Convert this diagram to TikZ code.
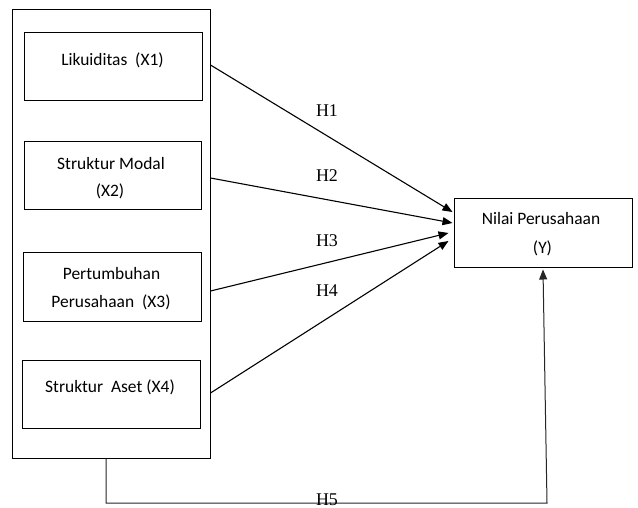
\documentclass[tikz,border=0pt]{standalone}
\usepackage{fontspec}
\setmainfont{Carlito}
\newfontfamily\hfont{Liberation Serif}
\usetikzlibrary{arrows.meta,calc}
\begin{document}
\begin{tikzpicture}[x=1bp,y=-1bp,
  varbox/.style={draw=black,line width=1bp,minimum width=177bp,minimum height=68bp,inner sep=0pt},
  outerbox/.style={draw=black,line width=1bp,minimum width=197bp,minimum height=448bp,inner sep=0pt},
  boxtext/.style={font=\fontsize{17.5}{21}\selectfont,anchor=base,inner sep=0pt},
  hlabel/.style={font=\hfont\fontsize{18}{21}\selectfont,anchor=base,inner sep=0pt},
  link/.style={draw=black,line width=1.1bp,-{Triangle[length=10bp,width=8bp]}},
  h5link/.style={draw=black!85,line width=1bp,-{Triangle[length=10bp,width=8bp]}}
]
\useasboundingbox (0,0) rectangle (638,508);
\fill[white] (0,0) rectangle (638,508);

\node[outerbox] (outer) at (111.5,234) {};
\node[varbox] (b1) at (113.5,67) {};
\node[varbox] (b2) at (113,176) {};
\node[varbox] (b3) at (112.5,287) {};
\node[varbox] (b4) at (111.5,394) {};
\node[varbox,minimum width=178bp] (Y) at (543,233) {};

\node[boxtext] (t1) at (112.5,66) {Likuiditas\ \ (X1)};
\node[boxtext] (t2a) at (111,170) {Struktur Modal};
\node[boxtext] (t2b) at (110,197) {(X2)};
\node[boxtext] (t3a) at (111.5,279) {Pertumbuhan};
\node[boxtext] (t3b) at (111,307) {Perusahaan\ \ (X3)};
\node[boxtext] (t4) at (110,392) {Struktur\ \ Aset (X4)};
\node[boxtext] (ty1) at (541,225) {Nilai Perusahaan};
\node[boxtext] (ty2) at (542.5,254) {(Y)};

\node[hlabel] (h1) at (327,116.7) {H1};
\node[hlabel] (h2) at (327,181.7) {H2};
\node[hlabel] (h3) at (327,246.7) {H3};
\node[hlabel] (h4) at (327,296.7) {H4};

\draw[link] ($(outer.east |- b1.center)+(0,-2)$) -- ($(Y.west)+(-1,-21)$);
\draw[link] ($(outer.east |- b2.center)+(0,2)$) -- ($(Y.west)+(-1,-10)$);
\draw[link] ($(outer.east |- b3.center)+(0,4)$) -- ($(Y.west)+(-5,0)$);
\draw[link] ($(outer.east |- b4.center)+(0,-1)$) -- ($(Y.west)+(-5,8)$);

\coordinate (c5) at (547,503);
\draw[h5link] ($(outer.south)+(-5.5,0)$) |- (c5) -- ($(Y.south)+(0,2)$);
\node[hlabel] (h5) at (327,505) {H5};
\end{tikzpicture}
\end{document}
